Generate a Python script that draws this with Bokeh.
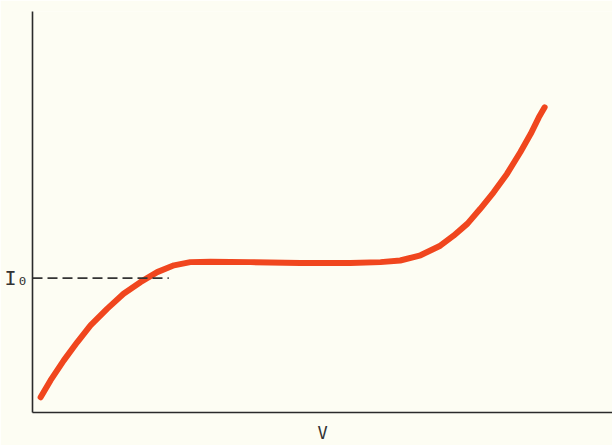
from bokeh.plotting import figure
from bokeh.models import Range1d, FixedTicker
from bokeh.embed import file_html
from bokeh.resources import INLINE

# Characteristic curve I(V), arbitrary units
volts = [1.4, 3.1, 5.4, 7.7, 10.0, 12.9, 15.7, 18.6, 21.5, 24.4, 27.2, 30.7, 37.6,
         46.2, 54.8, 60.0, 63.4, 66.9, 70.3, 72.6, 75.0, 77.2, 79.5, 81.8, 84.1,
         85.9, 87.3, 88.3]
current = [3.8, 8.0, 13.0, 17.5, 21.7, 25.9, 29.6, 32.5, 35.0, 36.7, 37.5, 37.6, 37.5,
           37.3, 37.3, 37.5, 37.9, 39.2, 41.6, 44.1, 47.1, 50.8, 54.9, 59.5, 64.9,
           69.5, 73.6, 76.1]
i0_level = 33.5
i0_label = "I\u2080"
i0_dash_v = [0.0, 23.5]

BG = "#fdfdf3"

p = figure(width=612, height=445, output_backend="svg", toolbar_location=None,
           x_range=Range1d(0, 100), y_range=Range1d(0, 100),
           min_border_left=32, min_border_right=0, min_border_top=11, min_border_bottom=33,
           background_fill_color=BG, border_fill_color=BG)
p.outline_line_color = None
p.grid.visible = False

for ax in (p.xaxis[0], p.yaxis[0]):
    ax.major_tick_line_color = None
    ax.minor_tick_line_color = None
    ax.major_tick_out = 0
    ax.major_tick_in = 0
    ax.axis_line_color = "#2a2a2a"
    ax.axis_line_width = 1.6

p.xaxis.ticker = FixedTicker(ticks=[])
p.xaxis.major_label_standoff = 0
p.xaxis.major_label_text_font_size = "0px"
p.xaxis.axis_label = "V"
p.xaxis.axis_label_text_font = "DejaVu Sans Mono"
p.xaxis.axis_label_text_font_style = "normal"
p.xaxis.axis_label_text_font_size = "17px"
p.xaxis.axis_label_text_color = "#333333"
p.xaxis.axis_label_standoff = 10

p.yaxis.ticker = FixedTicker(ticks=[i0_level])
p.yaxis.major_label_overrides = {i0_level: i0_label}
p.yaxis.major_label_text_font = "DejaVu Sans Mono"
p.yaxis.major_label_text_font_size = "20px"
p.yaxis.major_label_text_color = "#333333"
p.yaxis.major_label_standoff = 4
p.yaxis.axis_label = None

p.line(volts, current, line_color="#f0461e", line_width=6,
       line_cap="round", line_join="round")
p.line(i0_dash_v, [i0_level, i0_level], line_color="#333333", line_width=1.6,
       line_dash="10 5")

open("out.html", "w").write(file_html(p, INLINE))
